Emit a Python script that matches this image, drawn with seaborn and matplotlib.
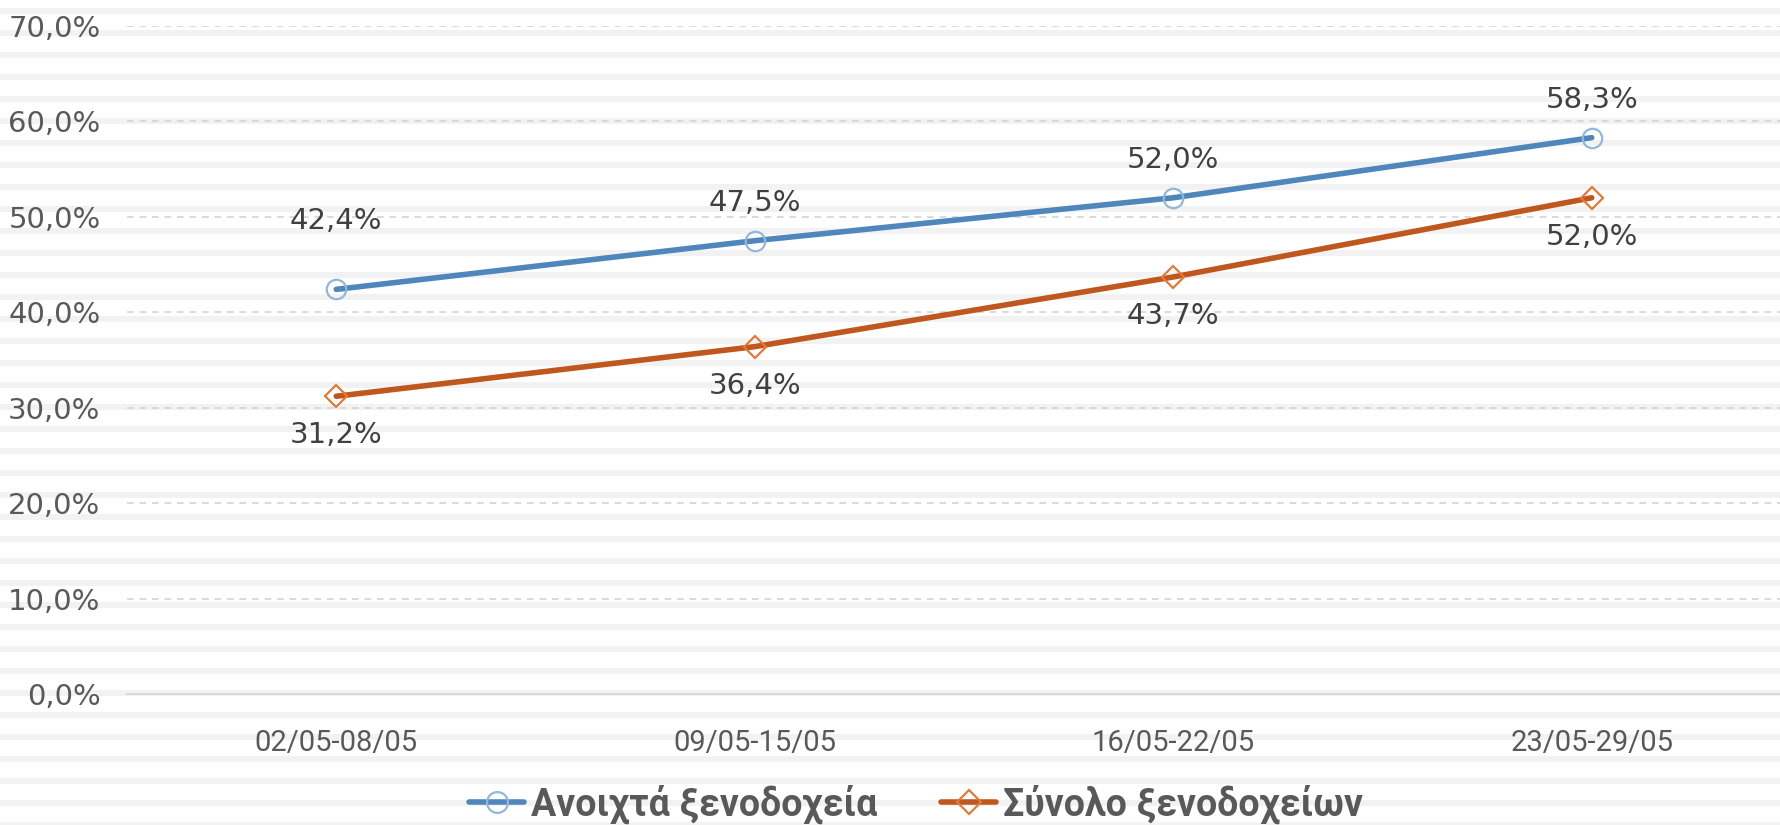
import numpy as np
import pandas as pd
import matplotlib
matplotlib.use("Agg")
import matplotlib.pyplot as plt
from matplotlib.patches import Rectangle
from matplotlib.lines import Line2D
from matplotlib.ticker import FuncFormatter
import seaborn as sns

# ---- data ----
weeks = ["02/05-08/05", "09/05-15/05", "16/05-22/05", "23/05-29/05"]
open_hotels = [42.4, 47.5, 52.0, 58.3]
all_hotels = [31.2, 36.4, 43.7, 52.0]
series_names = ["Ανοιχτά ξενοδοχεία", "Σύνολο ξενοδοχείων"]
y_ticks = [0, 10, 20, 30, 40, 50, 60, 70]

df = pd.DataFrame({
    "week": weeks * 2,
    "x": list(range(len(weeks))) * 2,
    "value": open_hotels + all_hotels,
    "series": [series_names[0]] * len(weeks) + [series_names[1]] * len(weeks),
})

sns.set_theme(style="white")
plt.rcParams["font.family"] = ["DejaVu Sans"]

W, H = 1781, 825
fig = plt.figure(figsize=(W / 100, H / 100), dpi=100)
fig.patch.set_facecolor("white")

# background stripes across the whole figure
for k in range(38):
    top = 8.3 + 22 * k
    fig.patches.append(Rectangle((0, 1 - (top + 5.6) / H), 1, 5.6 / H,
                                 transform=fig.transFigure, facecolor="#f2f2f2",
                                 edgecolor="none", zorder=-10))

ax = fig.add_axes([127 / W, 1 - 694 / H, (W - 127) / W, (694 - 26) / H])
ax.patch.set_alpha(0)

blue, orange = "#4f86bb", "#c0571f"
blue_m, orange_m = "#93b7d9", "#e07b3a"
LW = 4.0

sns.lineplot(data=df, x="x", y="value", hue="series", palette=[blue, orange],
             linewidth=LW, legend=False, ax=ax, zorder=3)
ax.plot(range(len(weeks)), open_hotels, linestyle="none", marker="o", markersize=14,
        markerfacecolor="none", markeredgecolor=blue_m, markeredgewidth=1.6, zorder=4)
ax.plot(range(len(weeks)), all_hotels, linestyle="none", marker="D", markersize=11.5,
        markerfacecolor="none", markeredgecolor=orange_m, markeredgewidth=1.6, zorder=4)

ax.set_xlim(-0.5, -0.5 + (W - 127) / 418.5)
ax.set_ylim(0, 70)
ax.set_yticks(y_ticks)
ax.yaxis.set_major_formatter(FuncFormatter(lambda v, p: f"{v:.1f}%".replace(".", ",")))
ax.set_xticks(range(len(weeks)))
ax.set_xticklabels(weeks, fontfamily="Roboto", fontsize=21, color="#595959")
ax.tick_params(axis="y", length=0, pad=19, labelsize=21, labelcolor="#595959")
ax.tick_params(axis="x", length=0, pad=25)
ax.set_xlabel("")
ax.set_ylabel("")

ax.grid(axis="y", color="#d4d4d4", linestyle=(0, (4, 3.5)), linewidth=1.2)
ax.grid(axis="x", visible=False)
for s in ["top", "right", "left"]:
    ax.spines[s].set_visible(False)
ax.spines["bottom"].set_color("#d9d9d9")
ax.spines["bottom"].set_linewidth(1.3)
ax.spines["bottom"].set_zorder(2)

fmt = lambda v: f"{v:.1f}%".replace(".", ",")
blue_offsets = [49, 27, 27, 27]
for i, v in enumerate(open_hotels):
    ax.annotate(fmt(v), (i, v), xytext=(0, blue_offsets[i]), textcoords="offset points",
                ha="center", va="center", fontsize=21, color="#404040")
for i, v in enumerate(all_hotels):
    ax.annotate(fmt(v), (i, v), xytext=(0, -28), textcoords="offset points",
                ha="center", va="center", fontsize=21, color="#404040")

handles = [
    Line2D([], [], color=blue, linewidth=LW, marker="o", markersize=15,
           markerfacecolor="none", markeredgecolor=blue_m, markeredgewidth=1.6),
    Line2D([], [], color=orange, linewidth=LW, marker="D", markersize=12,
           markerfacecolor="none", markeredgecolor=orange_m, markeredgewidth=1.6),
]
leg = fig.legend(handles, series_names, loc="center", bbox_to_anchor=(0.5145, 1 - 804 / H),
                 ncol=2, frameon=False, handlelength=1.45, handletextpad=0.2,
                 columnspacing=1.7, prop={"family": "Roboto", "weight": "bold", "size": 27})
for t in leg.get_texts():
    t.set_color("#595959")

fig.savefig("out.png", dpi=100)
